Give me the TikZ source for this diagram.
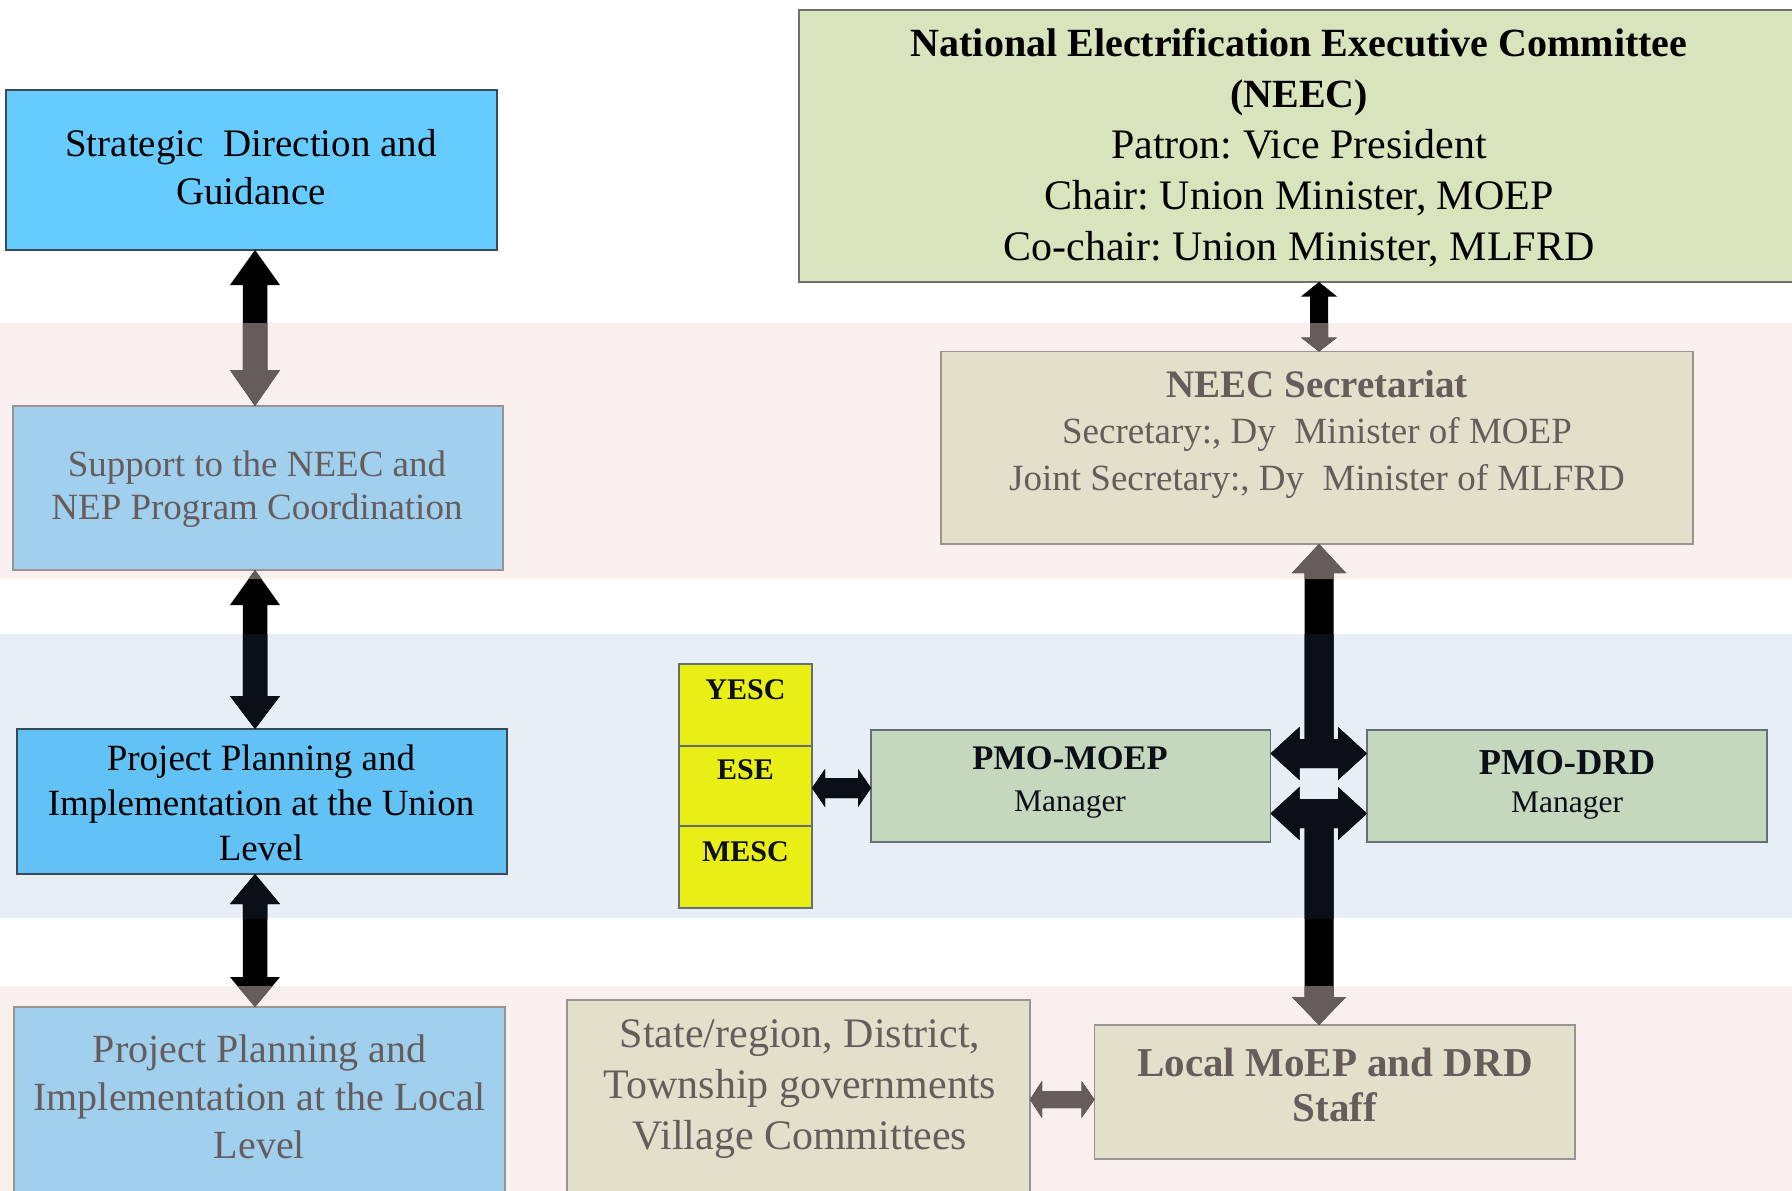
\documentclass[tikz,border=0pt]{standalone}
\usepackage{fontspec}
\setmainfont{Liberation Serif}
\usetikzlibrary{calc}
\frenchspacing
\definecolor{pinkband}{HTML}{F9EFEE}
\definecolor{blueband}{HTML}{E8EEF6}
\definecolor{stratfill}{HTML}{66CCFF}
\definecolor{unionfill}{HTML}{62C2F5}
\definecolor{palefill}{HTML}{A1D0EE}
\definecolor{yelfill}{HTML}{E9EF14}
\definecolor{neecfill}{HTML}{D8E4BC}
\definecolor{khakifill}{HTML}{E2E0CA}
\definecolor{pmofill}{HTML}{C5D8BE}
\definecolor{darkedge}{HTML}{3C4A56}
\definecolor{grayedge}{HTML}{9A9490}
\definecolor{midedge}{HTML}{707070}
\definecolor{greytext}{HTML}{665C5C}
\definecolor{navyblack}{HTML}{0B0F17}
\newcommand\varrowshape[7]{%
  \fill[#1] let \p1=(#2), \p2=(#3) in
  (\x1,\y1) -- (\x1+#5/2,\y1-#6) -- (\x1+#4/2,\y1-#6) -- (\x1+#4/2,\y2+#7)
  -- (\x1+#5/2,\y2+#7) -- (\x1,\y2) -- (\x1-#5/2,\y2+#7) -- (\x1-#4/2,\y2+#7)
  -- (\x1-#4/2,\y1-#6) -- (\x1-#5/2,\y1-#6) -- cycle;}
\newcommand\harrowshape[7]{%
  \fill[#1] let \p1=(#2), \p2=(#3) in
  (\x1,\y1) -- (\x1+#6,\y1+#5/2) -- (\x1+#6,\y1+#4/2) -- (\x2-#7,\y1+#4/2)
  -- (\x2-#7,\y1+#5/2) -- (\x2,\y1) -- (\x2-#7,\y1-#5/2) -- (\x2-#7,\y1-#4/2)
  -- (\x1+#6,\y1-#4/2) -- (\x1+#6,\y1-#5/2) -- cycle;}
\newcommand\arrcol{black}
\newcommand\drawallarrows{%
  \varrowshape{fill=\arrcol}{lx |- strat.south}{lx |- sup.north}{24.5pt}{50pt}{35pt}{36pt}
  \varrowshape{fill=\arrcol}{lx |- sup.south}{lx |- union.north}{24.5pt}{50pt}{35pt}{33pt}
  \varrowshape{fill=\arrcol}{lx |- union.south}{lx |- local.north}{24.5pt}{50pt}{30pt}{30pt}
  \varrowshape{fill=\arrcol}{rx |- neec.south}{rx |- sec.north}{18pt}{36pt}{14.5pt}{14pt}
  \varrowshape{fill=\arrcol}{rx |- sec.south}{rx |- h1}{29pt}{54pt}{29pt}{0pt}
  \varrowshape{fill=\arrcol}{rx |- h2}{rx |- locm.north}{29pt}{54pt}{0pt}{28pt}
  \harrowshape{fill=\arrcol}{pmom.east |- h1}{pmod.west |- h1}{29pt}{53pt}{29pt}{29pt}
  \harrowshape{fill=\arrcol}{pmom.east |- h2}{pmod.west |- h2}{29pt}{53pt}{29pt}{29pt}
  \harrowshape{fill=\arrcol}{ese.east |- ya}{pmom.west |- ya}{20pt}{38pt}{13pt}{13pt}
  \harrowshape{fill=\arrcol}{state.east |- ga}{locm.west |- ga}{17pt}{37pt}{12pt}{13pt}}
\begin{document}
\begin{tikzpicture}[x=1pt,y=1pt,
  box/.style={draw, line width=1.6pt, inner sep=0pt, outer sep=0pt},
  txt/.style={align=center, inner sep=0pt}]
\useasboundingbox (0,0) rectangle (1792,-1191);
\clip (0,0) rectangle (1792,-1191);
% bands
\fill[pinkband] (0,-323) rectangle (1792,-579);
\fill[blueband] (0,-634) rectangle (1792,-918);
\fill[pinkband] (0,-986) rectangle (1792,-1191);
% boxes
\node[box, draw=darkedge, fill=stratfill, minimum width=491pt, minimum height=160pt] (strat) at (251.5,-170) {};
\node[box, draw=grayedge, fill=palefill, minimum width=490pt, minimum height=164pt] (sup) at (258,-488) {};
\node[box, draw=darkedge, fill=unionfill, minimum width=490pt, minimum height=145pt] (union) at (262,-801.5) {};
\node[box, draw=grayedge, fill=palefill, minimum width=491pt, minimum height=213pt] (local) at (259.5,-1113.5) {};
\node[box, draw=darkedge!80, fill=yelfill, minimum width=133pt, minimum height=82pt] (yesc) at (745.5,-705) {};
\node[box, draw=darkedge!80, fill=yelfill, minimum width=133pt, minimum height=80pt] (ese) at (745.5,-786) {};
\node[box, draw=darkedge!80, fill=yelfill, minimum width=133pt, minimum height=82pt] (mesc) at (745.5,-867) {};
\node[box, draw=midedge, fill=neecfill, minimum width=1000pt, minimum height=272pt] (neec) at (1299,-146) {};
\node[box, draw=grayedge, fill=khakifill, minimum width=752pt, minimum height=192.5pt] (sec) at (1317,-447.75) {};
\node[box, draw=darkedge!80, fill=pmofill, minimum width=399.5pt, minimum height=112pt] (pmom) at (1070.75,-786) {};
\node[box, draw=darkedge!80, fill=pmofill, minimum width=400pt, minimum height=112pt] (pmod) at (1567,-786) {};
\node[box, draw=grayedge, fill=khakifill, minimum width=463pt, minimum height=220pt] (state) at (798.5,-1110) {};
\node[box, draw=grayedge, fill=khakifill, minimum width=480.5pt, minimum height=134pt] (locm) at (1334.75,-1092) {};
% texts
\node[txt, font={\fontsize{39}{48}\selectfont}] (strat-t) at (251,-167) {Strategic\ \ Direction and\\Guidance};
\node[txt, text=greytext, font={\fontsize{37}{43}\selectfont}] (sup-t) at (257,-489) {Support to the NEEC and\\NEP Program Coordination};
\node[txt, font={\fontsize{37}{45}\selectfont}] (union-t) at (261,-803) {Project Planning and\\Implementation at the Union\\Level};
\node[txt, text=greytext, font={\fontsize{40}{48}\selectfont}] (local-t) at (259.5,-1097) {Project Planning and\\Implementation at the Local\\Level};
\node[txt, text=navyblack, font={\bfseries\fontsize{30}{36}\selectfont}] (yesc-t) at (745.5,-690) {YESC};
\node[txt, text=navyblack, font={\bfseries\fontsize{30}{36}\selectfont}] (ese-t) at (745.5,-769.6) {ESE};
\node[txt, text=navyblack, font={\bfseries\fontsize{30}{36}\selectfont}] (mesc-t) at (745.5,-851.8) {MESC};
\node[txt, font={\fontsize{42}{51}\selectfont}] (neec-t) at (1299,-147.5) {{\bfseries\fontsize{40}{51}\selectfont National Electrification Executive Committee}\\{\bfseries\fontsize{40}{51}\selectfont (NEEC)}\\Patron: Vice President\\Chair: Union Minister, MOEP\\Co-chair: Union Minister, MLFRD};
\node[txt, text=greytext, font={\fontsize{37}{46.5}\selectfont}] (sec-t) at (1317,-434) {{\bfseries\fontsize{39}{46.5}\selectfont NEEC Secretariat}\\Secretary:, Dy\ \ Minister of MOEP\\Joint Secretary:, Dy\ \ Minister of MLFRD};
\node[txt, text=navyblack, font={\fontsize{31.5}{42}\selectfont}] (pmom-t) at (1070,-782.5) {{\bfseries\fontsize{34.5}{42}\selectfont PMO-MOEP}\\Manager};
\node[txt, text=navyblack, font={\fontsize{31.5}{38}\selectfont}] (pmod-t) at (1567,-784.5) {{\bfseries\fontsize{36.5}{38}\selectfont PMO-DRD}\\Manager};
\node[txt, text=greytext, font={\fontsize{42}{51}\selectfont}] (state-t) at (800,-1089) {State/region, District,\\Township governments\\Village Committees};
\node[txt, text=greytext, font={\bfseries\fontsize{41}{45}\selectfont}] (locm-t) at (1335,-1084.5) {Local MoEP and DRD\\Staff};
% helper coordinates
\coordinate (lx) at (255,0);
\coordinate (rx) at (1319,0);
\coordinate (h1) at (0,-753.5);
\coordinate (h2) at (0,-813.5);
\coordinate (ya) at (0,-788);
\coordinate (ga) at (0,-1099.5);
% arrows
\drawallarrows
\begin{scope}
  \clip (0,-323) rectangle (1792,-579) (0,-986) rectangle (1792,-1191);
  \renewcommand\arrcol{greytext}
  \drawallarrows
\end{scope}
\begin{scope}
  \clip (0,-634) rectangle (1792,-918);
  \renewcommand\arrcol{navyblack}
  \drawallarrows
\end{scope}
\end{tikzpicture}
\end{document}
